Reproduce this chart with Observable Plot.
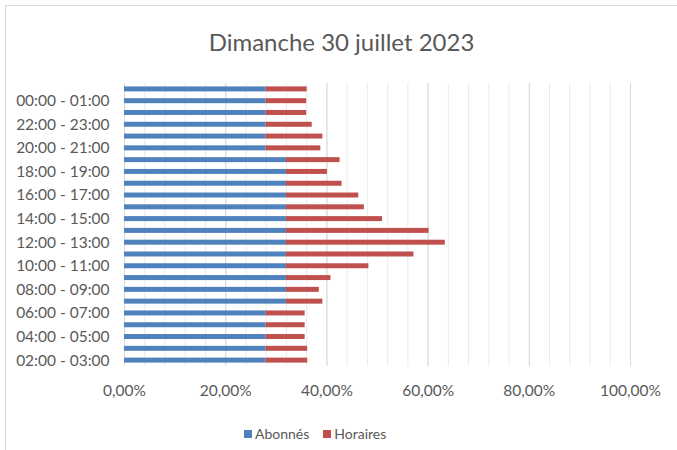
<!DOCTYPE html>
<html>
<head>
<meta charset="utf-8">
<script src="https://cdn.jsdelivr.net/npm/d3@7"></script>
<script src="https://cdn.jsdelivr.net/npm/@observablehq/plot@0.6"></script>
<style>
  body { margin: 0; background: #fff; font-family: Lato, "Open Sans", sans-serif; }
  #frame { position: relative; width: 677px; height: 450px; overflow: hidden; background: #fff; }
  #border { position: absolute; left: 5px; top: 5px; width: 720px; height: 480px; border: 1px solid #d9d9d9; box-sizing: border-box; }
  #title { position: absolute; left: 0; top: 27px; width: 683px; text-align: center; font-size: 24px; line-height: 30px; color: #595959; }
  #chart { position: absolute; left: 0; top: 70px; }
  #legend { position: absolute; left: 244px; top: 423px; white-space: nowrap; font-size: 14px; line-height: 20px; color: #595959; }
  .item { display: inline-flex; align-items: center; margin-right: 14px; }
  .sw { display: inline-block; width: 8px; height: 8px; margin-right: 3px; }
</style>
</head>
<body>
<div id="frame">
  <div id="border"></div>
  <div id="title">Dimanche 30 juillet 2023</div>
  <div id="chart"></div>
  <div id="legend"></div>
</div>
<script>
// Categories, first (bottom) to last (top)
const hours = [
  "02:00 - 03:00","03:00 - 04:00","04:00 - 05:00","05:00 - 06:00","06:00 - 07:00",
  "07:00 - 08:00","08:00 - 09:00","09:00 - 10:00","10:00 - 11:00","11:00 - 12:00",
  "12:00 - 13:00","13:00 - 14:00","14:00 - 15:00","15:00 - 16:00","16:00 - 17:00",
  "17:00 - 18:00","18:00 - 19:00","19:00 - 20:00","20:00 - 21:00","21:00 - 22:00",
  "22:00 - 23:00","23:00 - 00:00","00:00 - 01:00","01:00 - 02:00"
];
// Values in percent
const abonnes = [28,28,28,28,28, 32,32,32,32,32, 32,32,32,32,32, 32,32,32,28,28, 28,28,28,28];
const horaires = [8.2,8.2,7.7,7.7,7.7, 7.2,6.5,8.8,16.3,25.2, 31.4,28.2,19.0,15.4,14.3, 11.0,8.1,10.6,10.8,11.2, 9.1,8.0,8.0,8.1];
const seriesNames = ["Abonnés", "Horaires"];
const seriesColors = ["#4f81bd", "#c0504d"];
const xTicks = [0, 20, 40, 60, 80, 100];
const minorTicks = [0,4,8,12,16,20,24,28,32,36,40,44,48,52,56,60,64,68,72,76,80,84,88,92,96,100];
const shownLabels = hours.filter((_, i) => i % 2 === 0);

const data = hours.flatMap((h, i) => [
  { hour: h, series: seriesNames[0], value: abonnes[i] / 100 },
  { hour: h, series: seriesNames[1], value: horaires[i] / 100 }
]);
const fmt = v => (v * 100).toFixed(2).replace(".", ",") + "%";

const chart = Plot.plot({
  width: 677,
  height: 335,
  marginTop: 13,
  marginBottom: 39,
  marginLeft: 124,
  marginRight: 47,
  style: { fontFamily: 'Lato, "Open Sans", sans-serif', fontSize: "15.5px", color: "#595959", background: "transparent" },
  x: { domain: [0, 1], axis: null, label: null },
  y: { domain: hours.slice().reverse(), padding: 0, round: false, axis: null, label: null },
  color: { domain: seriesNames, range: seriesColors },
  marks: [
    Plot.gridX(minorTicks.map(v => v / 100), { stroke: "#ebebeb", strokeOpacity: 1 }),
    Plot.gridX(xTicks.map(v => v / 100), { stroke: "#d9d9d9", strokeOpacity: 1 }),
    Plot.ruleX([0], { stroke: "#d9d9d9" }),
    Plot.barX(data, { x: "value", y: "hour", fill: "series", insetTop: 3.4, insetBottom: 3.4 }),
    Plot.axisX(xTicks.map(v => v / 100), { tickSize: 0, tickPadding: 18, tickFormat: fmt, fill: "#595959", fontSize: 15.5, label: null }),
    Plot.axisY(shownLabels, { tickSize: 0, tickPadding: 15, fill: "#595959", fontSize: 15.5, label: null })
  ]
});
document.getElementById("chart").appendChild(chart);

const legend = document.getElementById("legend");
seriesNames.forEach((name, i) => {
  const item = document.createElement("span");
  item.className = "item";
  const sw = document.createElement("span");
  sw.className = "sw";
  sw.style.background = seriesColors[i];
  item.appendChild(sw);
  item.appendChild(document.createTextNode(name));
  legend.appendChild(item);
});
</script>
</body>
</html>
